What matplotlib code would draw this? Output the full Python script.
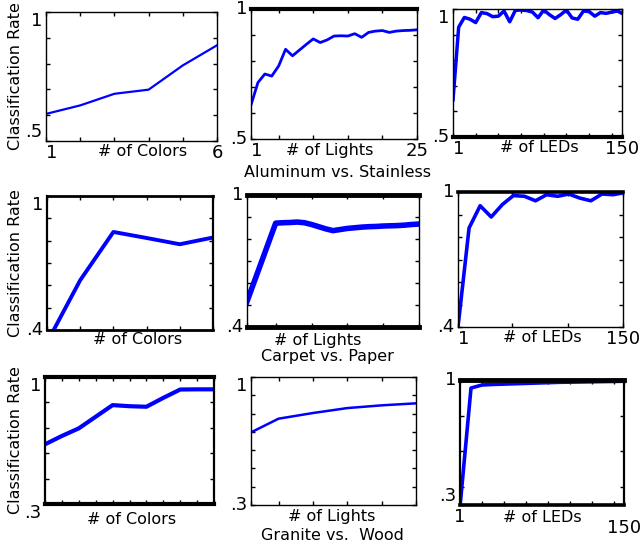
import matplotlib
matplotlib.use('Agg')
import matplotlib.pyplot as plt
from matplotlib.transforms import offset_copy

# ---------------------------------------------------------------
# data (classification rate per setting)
# ---------------------------------------------------------------
# Aluminum vs. Stainless
al_colors_x = [1, 2, 3, 4, 5, 6]
al_colors = [0.605, 0.638, 0.683, 0.699, 0.793, 0.871]

al_lights_x = list(range(1, 26))
al_lights = [0.631, 0.717, 0.750, 0.742, 0.781, 0.845, 0.820, 0.842, 0.864,
             0.885, 0.871, 0.881, 0.896, 0.897, 0.896, 0.905, 0.891, 0.910,
             0.915, 0.917, 0.910, 0.915, 0.917, 0.918, 0.920]

al_leds_x = [1, 6, 11, 16, 21, 26, 31, 36, 41, 46, 51, 56, 61, 66, 71, 76,
             81, 86, 91, 96, 101, 106, 111, 116, 121, 126, 131, 136, 141,
             146, 150]
al_leds = [0.645, 0.929, 0.967, 0.960, 0.947, 0.986, 0.982, 0.970, 0.972,
           0.992, 0.950, 0.995, 0.996, 0.994, 0.988, 0.966, 0.996, 0.978,
           0.963, 0.978, 0.996, 0.965, 0.960, 0.992, 0.990, 0.972, 0.986,
           0.983, 0.988, 0.992, 0.983]

# Carpet vs. Paper
cp_colors_x = [1, 2, 3, 4, 5, 6]
cp_colors = [0.344, 0.623, 0.839, 0.812, 0.784, 0.814]

cp_lights_x = [1, 5, 6, 7, 8, 9, 10, 11, 12, 13, 14, 15, 16, 17, 18, 19, 20,
               21, 22, 23, 24, 25]
cp_lights = [0.516, 0.872, 0.874, 0.875, 0.877, 0.874, 0.866, 0.856, 0.846,
             0.838, 0.843, 0.848, 0.851, 0.854, 0.856, 0.857, 0.859, 0.860,
             0.861, 0.863, 0.866, 0.868]

cp_leds_x = [1, 11, 21, 31, 41, 51, 61, 71, 81, 91, 101, 111, 121, 131, 141,
             150]
cp_leds = [0.400, 0.840, 0.939, 0.889, 0.944, 0.984, 0.981, 0.961, 0.988,
           0.981, 0.991, 0.973, 0.961, 0.991, 0.988, 0.996]

# Granite vs. Wood
gw_colors_x = [1, 2, 3, 4, 5, 6, 7, 8, 9, 10, 11]
gw_colors = [0.629, 0.675, 0.717, 0.781, 0.845, 0.839, 0.836, 0.885, 0.931,
             0.932, 0.932]

gw_lights_x = [1, 5, 10, 15, 20, 25]
gw_lights = [0.697, 0.772, 0.803, 0.830, 0.845, 0.856]

gw_leds_x = [1, 11, 21, 31, 41, 51, 61, 71, 81, 91, 101, 111, 121, 131, 141,
             150]
gw_leds = [0.290, 0.955, 0.972, 0.975, 0.977, 0.979, 0.981, 0.983, 0.985,
           0.987, 0.988, 0.989, 0.990, 0.991, 0.992, 0.993]

row_titles = ['Aluminum vs. Stainless', 'Carpet vs. Paper', 'Granite vs.  Wood']
xlab_names = ['# of Colors', '# of Lights', '# of LEDs']

led_ticks = [1, 21, 41, 61, 81, 101, 121, 141, 150]

# ---------------------------------------------------------------
# per panel layout (pixel boxes: left, top, right, bottom)
# ---------------------------------------------------------------
W, H = 642, 545
panels = [
    # row 1
    dict(x=al_colors_x, y=al_colors, box=(46, 12, 217, 141), ylo=0.5,
         yt=[0.5, 0.6, 0.7, 0.8, 0.9, 1.0], ylab=['.5', '1'],
         xt=[1, 2, 3, 4, 5, 6], xlab=['1', '6'], first_ha='left',
         lw=1.6, sp={}, va=('top', 'bottom'), xoff=(11, 10)),
    dict(x=al_lights_x, y=al_lights, box=(251, 9, 417, 139), ylo=0.5,
         yt=[0.5, 0.6, 0.7, 0.8, 0.9, 1.0], ylab=['.5', '1'],
         xt=[1, 5, 10, 15, 20, 25], xlab=['1', '25'], first_ha='left',
         lw=2.0, sp={'top': 3.0}, va=('center', 'center'), xoff=(-4, 11)),
    dict(x=al_leds_x, y=al_leds, box=(453, 9, 622, 137), ylo=0.5,
         yt=[0.5, 0.6, 0.7, 0.8, 0.9, 1.0], ylab=['.5', '1'],
         xt=led_ticks, xlab=['1', '150'], first_ha='left',
         lw=2.5, sp={'bottom': 3.0}, va=('top', 'center'), xoff=(2, 11)),
    # row 2
    dict(x=cp_colors_x, y=cp_colors, box=(47, 196, 213, 330), ylo=0.4,
         yt=[0.4, 0.5, 0.6, 0.7, 0.8, 0.9, 1.0], ylab=['.4', '1'],
         xt=[1, 2, 3, 4, 5, 6], xlab=None, first_ha='center',
         lw=2.8, sp={'top': 2.0, 'bottom': 2.0, 'left': 1.6, 'right': 1.6},
         va=('top', 'center'), xoff=(8, 10)),
    dict(x=cp_lights_x, y=cp_lights, box=(247, 195, 419, 327), ylo=0.4,
         yt=[0.4, 0.5, 0.6, 0.7, 0.8, 0.9, 1.0], ylab=['.4', '1'],
         xt=[1, 5, 10, 15, 20, 25], xlab=None, first_ha='center',
         lw=4.0, sp={'top': 3.5, 'bottom': 3.5}, va=('center', 'center'),
         xoff=(-15, 13)),
    dict(x=cp_leds_x, y=cp_leds, box=(458, 192, 623, 327), ylo=0.4,
         yt=[0.4, 0.5, 0.6, 0.7, 0.8, 0.9, 1.0], ylab=['.4', '1'],
         xt=[1, 50, 100, 150], xlab=['1', '150'], first_ha='left',
         lw=2.6, sp={'top': 2.6}, va=('center', 'center'), xoff=(2, 11)),
    # row 3
    dict(x=gw_colors_x, y=gw_colors, box=(45, 377, 214, 504), ylo=0.3,
         yt=[0.3, 0.44, 0.58, 0.72, 0.86, 1.0], ylab=['.3', '1'],
         xt=gw_colors_x, xlab=None, first_ha='center',
         lw=3.0, sp={'top': 3.0, 'bottom': 3.0, 'left': 1.6, 'right': 1.6},
         va=('top', 'top'), xoff=(2, 16)),
    dict(x=gw_lights_x, y=gw_lights, box=(251, 377, 416, 505), ylo=0.3,
         yt=[0.3, 0.4, 0.5, 0.6, 0.7, 0.8, 0.9, 1.0], ylab=['.3', '1'],
         xt=[1, 5, 10, 15, 20, 25], xlab=None, first_ha='center',
         lw=1.8, sp={}, va=('top', 'center'), xoff=(-2, 12)),
    dict(x=gw_leds_x, y=gw_leds, box=(460, 380, 624, 505), ylo=0.3,
         yt=[0.3, 0.4, 0.6, 0.8, 1.0], ylab=['.3', '1'],
         xt=led_ticks, xlab=['1', '150'], first_ha='center',
         lw=2.6, sp={'top': 3.5, 'bottom': 2.6, 'left': 1.6, 'right': 1.6},
         va=('center', 'bottom'), xoff=(0, 12)),
]
title_off = [(3, 33), (-6, 29), (-1, 31)]

fig = plt.figure(figsize=(W / 100, H / 100), dpi=100)

for k, p in enumerate(panels):
    row, col = divmod(k, 3)
    l, t, r, b = p['box']
    ax = fig.add_axes([l / W, 1 - b / H, (r - l) / W, (b - t) / H])
    ax.plot(p['x'], p['y'], color='#0000ff', lw=p['lw'],
            solid_joinstyle='round')
    ax.set_xlim(p['x'][0], p['x'][-1])
    ax.set_ylim(p['ylo'], 1.0)

    # y ticks: only the two ends carry a label
    ylabels = [''] * len(p['yt'])
    ylabels[0], ylabels[-1] = p['ylab']
    ax.set_yticks(p['yt'], labels=ylabels)
    ylbl = ax.get_yticklabels()
    ylbl[-1].set_va(p['va'][0])
    ylbl[0].set_va(p['va'][1])

    xlabels = [''] * len(p['xt'])
    if p['xlab']:
        xlabels[0], xlabels[-1] = p['xlab']
    ax.set_xticks(p['xt'], labels=xlabels)
    xlbl = ax.get_xticklabels()
    xlbl[0].set_ha(p['first_ha'])
    if k == 8:
        xlbl[-1].set_y(-0.09)

    ax.tick_params(direction='in', top=True, right=True, length=3,
                   width=1, labelsize=13)
    ax.tick_params(axis='x', pad=2)
    ax.tick_params(axis='y', pad=2.5)
    for s in ax.spines.values():
        s.set_linewidth(1.0)
    for s, w in p['sp'].items():
        ax.spines[s].set_linewidth(w)

    ax.set_xlabel(xlab_names[col], fontsize=11.5)
    ax.xaxis.label.set_va('center')
    dx, dy = p['xoff']
    ax.xaxis.set_label_coords(0.5, 0, transform=offset_copy(
        ax.transAxes, fig=fig, x=dx, y=-dy, units='dots'))

    if col == 0:
        ax.set_ylabel('Classification Rate', fontsize=11.5)
        ax.yaxis.label.set_va('center')
        ax.yaxis.set_label_coords(0, 0.5, transform=offset_copy(
            ax.transAxes, fig=fig, x=16 - l, y=0, units='dots'))

    if col == 1:
        tx, ty = title_off[row]
        ax.text(0.5, 0, row_titles[row], fontsize=11.5, ha='center',
                va='center', transform=offset_copy(
                    ax.transAxes, fig=fig, x=tx, y=-ty, units='dots'))

fig.savefig('out.png', dpi=100)
